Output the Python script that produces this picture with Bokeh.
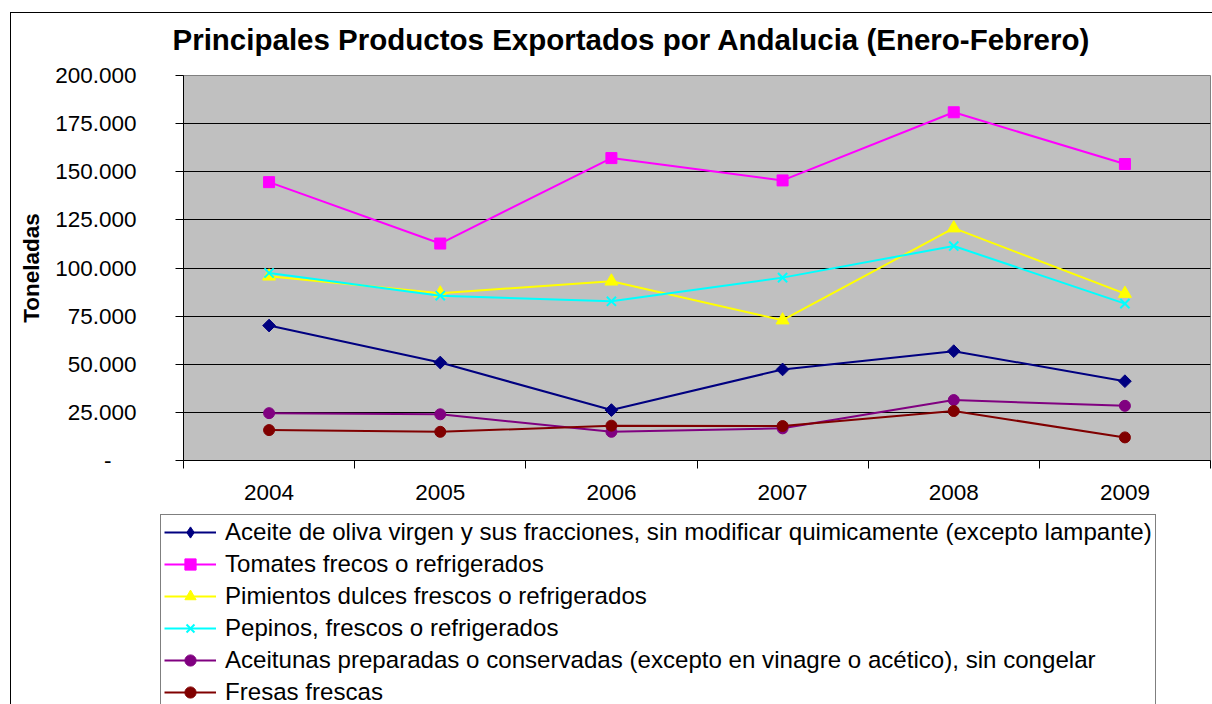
from math import pi
from bokeh.plotting import figure
from bokeh.layouts import column
from bokeh.models import Range1d, FixedTicker, Legend, LegendItem
from bokeh.embed import file_html
from bokeh.resources import INLINE

# ---- data ----
years = ["2004", "2005", "2006", "2007", "2008", "2009"]
aceite = [70100, 50900, 26200, 47300, 56800, 41200]
tomates = [144600, 112700, 157100, 145500, 180900, 154000]
pimientos = [95700, 86900, 93100, 72900, 120700, 86700]
pepinos = [97400, 85600, 82700, 95000, 111400, 81500]
aceitunas = [24600, 24000, 14900, 16700, 31400, 28400]
fresas = [15800, 14900, 18100, 17900, 25700, 12000]

series_names = [
    "Aceite de oliva virgen y sus fracciones, sin modificar quimicamente (excepto lampante)",
    "Tomates frecos o refrigerados",
    "Pimientos dulces frescos o refrigerados",
    "Pepinos, frescos o refrigerados",
    "Aceitunas preparadas o conservadas (excepto en vinagre o acético), sin congelar",
    "Fresas frescas",
]
y_ticks = [0, 25000, 50000, 75000, 100000, 125000, 150000, 175000, 200000]
y_tick_labels = ["-\u00a0\u00a0\u00a0\u00a0", "25.000", "50.000", "75.000", "100.000",
                 "125.000", "150.000", "175.000", "200.000"]

title_text = "Principales Productos Exportados por Andalucia (Enero-Febrero)"
y_label = "Toneladas"

FONT = "Liberation Sans"

xs = list(range(len(years)))

p = figure(
    width=1201, height=509,
    output_backend="svg", toolbar_location=None,
    x_range=Range1d(-0.5, 5.5), y_range=Range1d(0, 200000),
    min_border_left=172, min_border_right=2, min_border_top=74, min_border_bottom=50,
    background_fill_color="#C0C0C0", border_fill_color="white", border_fill_alpha=0,
    outline_line_color="#808080",
)
p.styles = {"margin-top": "-12px"}

p.title.text = title_text
p.title.text_font = FONT
p.title.text_font_size = "29.5px"
p.title.text_font_style = "bold"
p.title.text_color = "black"
p.title.align = "left"
p.title.offset = -11
p.title.standoff = 39

# x axis
p.xaxis.ticker = FixedTicker(ticks=xs, minor_ticks=[i - 0.5 for i in range(len(years) + 1)])
p.xaxis.major_label_overrides = {i: y for i, y in zip(xs, years)}
p.xaxis.major_tick_line_color = None
p.xaxis.major_tick_out = 0
p.xaxis.major_tick_in = 0
p.xaxis.minor_tick_line_color = "black"
p.xaxis.minor_tick_out = 8
p.xaxis.minor_tick_in = 0
p.xaxis.axis_line_color = "black"
p.xaxis.major_label_text_font = FONT
p.xaxis.major_label_text_font_size = "22.5px"
p.xaxis.major_label_text_color = "black"
p.xaxis.major_label_standoff = 16

# y axis
p.yaxis.ticker = FixedTicker(ticks=y_ticks)
p.yaxis.major_label_overrides = {t: l for t, l in zip(y_ticks, y_tick_labels)}
p.yaxis.minor_tick_line_color = None
p.yaxis.major_tick_out = 8
p.yaxis.major_tick_in = 0
p.yaxis.major_tick_line_color = "black"
p.yaxis.axis_line_color = "black"
p.yaxis.major_label_text_font = FONT
p.yaxis.major_label_text_font_size = "22.5px"
p.yaxis.major_label_text_color = "black"
p.yaxis.major_label_standoff = 39
p.yaxis.axis_label = y_label
p.yaxis.axis_label_text_font = FONT
p.yaxis.axis_label_text_font_size = "22.5px"
p.yaxis.axis_label_text_font_style = "bold"
p.yaxis.axis_label_text_color = "black"
p.yaxis.axis_label_standoff = 8

p.xgrid.grid_line_color = None
p.ygrid.ticker = FixedTicker(ticks=y_ticks[1:-1])
p.ygrid.grid_line_color = "black"
p.ygrid.grid_line_width = 1

# (values, colour, plot marker, size, angle, legend marker)
specs = [
    (aceite, "#000080", "square", 9, pi / 4, "diamond"),
    (tomates, "#FF00FF", "square", 11, 0, "square"),
    (pimientos, "#FFFF00", "triangle", 13, 0, "triangle"),
    (pepinos, "#00FFFF", "x", 13, 0, "x"),
    (aceitunas, "#800080", "circle", 11, 0, "circle"),
    (fresas, "#800000", "circle", 11, 0, "circle"),
]

# legend panel below the chart: its swatches come from the same series,
# drawn on a 0..1 range so that only the legend shows them
lg = figure(
    width=1201, height=194,
    output_backend="svg", toolbar_location=None,
    x_range=Range1d(0, 1), y_range=Range1d(0, 1),
    x_axis_location=None, y_axis_location=None,
    min_border_left=0, min_border_right=0, min_border_top=0, min_border_bottom=0,
    background_fill_color="white", background_fill_alpha=0,
    border_fill_color="white", border_fill_alpha=0,
    outline_line_color=None,
)
lg.xgrid.grid_line_color = None
lg.ygrid.grid_line_color = None

if "frame_align" in p.properties():
    p.frame_align = False
    lg.frame_align = False

items = []
for (vals, color, marker, size, ang, lmarker), name in zip(specs, series_names):
    p.line(xs, vals, line_color=color, line_width=2)
    p.scatter(xs, vals, marker=marker, size=size, angle=ang,
              fill_color=color, line_color=color, line_width=2 if marker == "x" else 1)
    s1 = lg.line(xs, vals, line_color=color, line_width=2)
    s2 = lg.scatter(xs, vals, marker=lmarker,
                    fill_color=color, line_color=color, line_width=2 if marker == "x" else 1)
    items.append(LegendItem(label=name, renderers=[s1, s2]))

legend = Legend(
    items=items, location=(149, -6), orientation="vertical",
    label_text_font=FONT, label_text_font_size="24.1px", label_text_color="black",
    label_height=28, glyph_height=28, glyph_width=52, label_standoff=9,
    spacing=4, padding=3, margin=0,
    border_line_color="black", border_line_width=1, background_fill_color="white",
    background_fill_alpha=1.0,
)
lg.add_layout(legend, "center")

layout = column(p, lg, spacing=0,
                styles={"margin-left": "10px", "margin-top": "12px",
                        "border-left": "1px solid black", "border-top": "1px solid black"})

open("out.html", "w").write(file_html(layout, INLINE))
